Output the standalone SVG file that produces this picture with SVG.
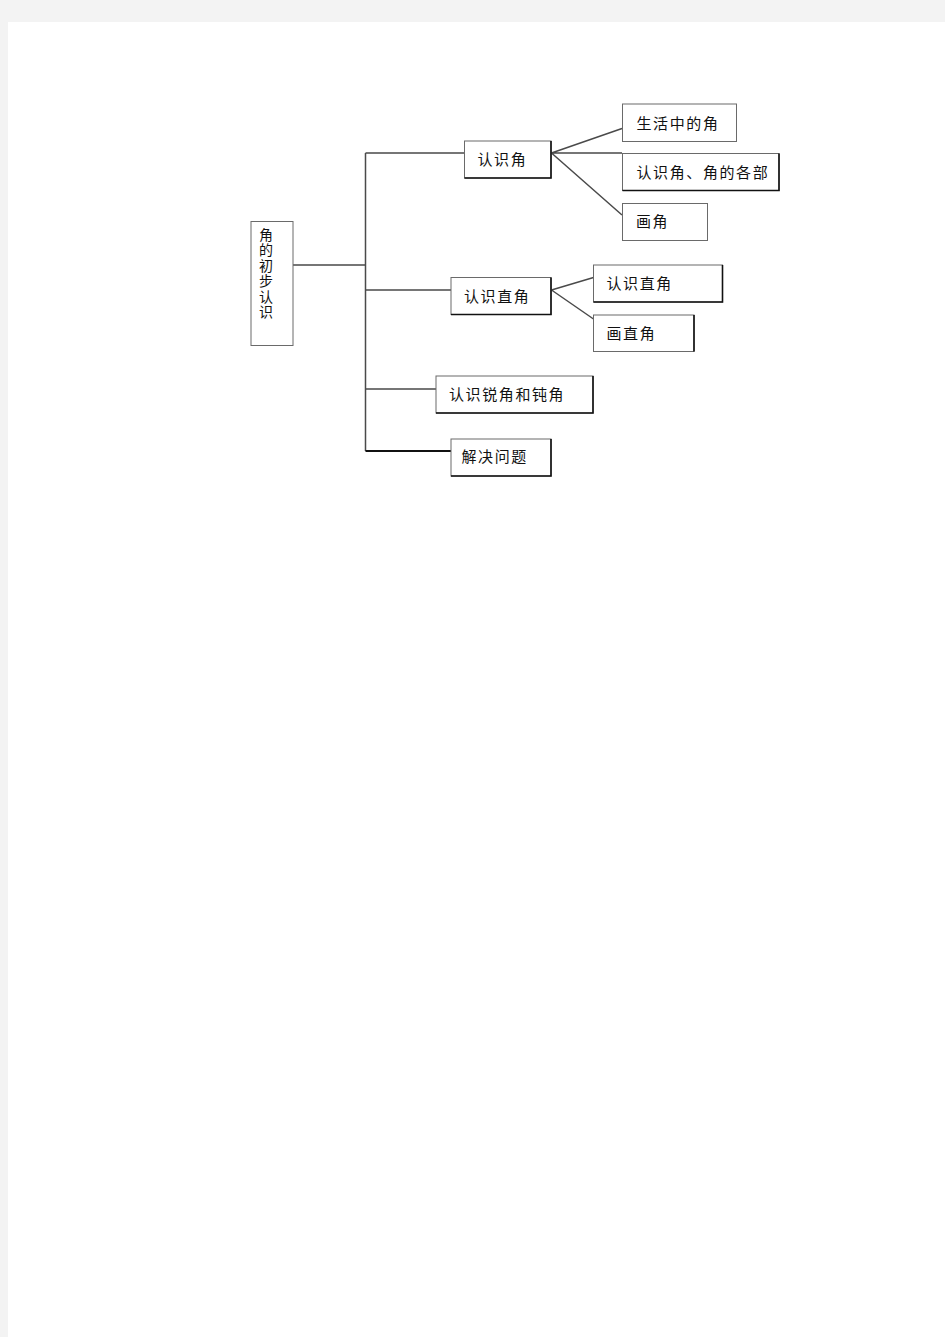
<svg xmlns="http://www.w3.org/2000/svg" width="945" height="1337" viewBox="0 0 945 1337">
<style>
.box{fill:#fff;stroke:#6a6a6a;stroke-width:1}
.sh{fill:none;stroke:#111;stroke-width:1.6}
.ln{fill:none;stroke:#4a4a4a;stroke-width:1.5}
.t{font-family:"Noto Sans CJK SC","Liberation Sans",sans-serif;font-size:15px;fill:#111;letter-spacing:1.6px;dominant-baseline:central}
.v{font-family:"Noto Sans CJK SC","Liberation Sans",sans-serif;font-size:14px;fill:#111;writing-mode:vertical-rl;letter-spacing:1.5px}
</style>
<rect x="0" y="0" width="945" height="1337" fill="#f3f3f3"/>
<rect x="8" y="22" width="937" height="1315" fill="#fff"/>
<g id="connectors">
<path class="ln" d="M293,265 H365.5 M365.5,153 V451 M365.5,153 H465 M365.5,290 H451 M365.5,389 H436"/>
<path fill="none" stroke="#111" stroke-width="1.8" d="M365.5,451 H451"/>
<path class="ln" d="M551.5,153 L622,128.5 M551.5,153 H622 M551.5,153 L622,215 M551.5,290 L593.5,277.5 M551.5,290 L593.5,319"/>
</g>
<g id="root">
<rect class="box" x="251" y="221.5" width="42" height="124"/>
<text class="v" x="266" y="227.5">角的初步认识</text>
</g>
<g id="n1">
<rect class="box" x="464.5" y="141" width="86.5" height="37"/>
<path class="sh" d="M551,141 V178 H464.5"/>
<text class="t" x="477.5" y="158.5">认识角</text>
</g>
<g id="n2">
<rect class="box" x="451" y="277.5" width="100" height="37"/>
<path class="sh" d="M551,277.5 V314.5 H451"/>
<text class="t" x="464" y="295">认识直角</text>
</g>
<g id="n3">
<rect class="box" x="436" y="376" width="157" height="37"/>
<path class="sh" d="M593,376 V413 H436"/>
<text class="t" x="449" y="393">认识锐角和钝角</text>
</g>
<g id="n4">
<rect class="box" x="451" y="439" width="100" height="37"/>
<path class="sh" d="M551,439 V476 H451"/>
<text class="t" x="461.5" y="455.5">解决问题</text>
</g>
<g id="n11">
<rect class="box" x="622.5" y="104" width="114" height="37.5"/>
<text class="t" x="636.5" y="122">生活中的角</text>
</g>
<g id="n12">
<rect class="box" x="622.5" y="153.5" width="156.5" height="37"/>
<path class="sh" d="M779,153.5 V190.5 H622.5"/>
<text class="t" x="636.5" y="171">认识角、角的各部</text>
</g>
<g id="n13">
<rect class="box" x="622.5" y="203.5" width="85" height="37"/>
<text class="t" x="636" y="220.5">画角</text>
</g>
<g id="n21">
<rect class="box" x="593.5" y="265" width="129" height="37"/>
<path class="sh" d="M722.5,265 V302 H593.5"/>
<text class="t" x="606.5" y="282.5">认识直角</text>
</g>
<g id="n22">
<rect class="box" x="593.5" y="315" width="100.5" height="36.5"/>
<path class="sh" d="M694,315 V351.5"/>
<text class="t" x="606.5" y="332.5">画直角</text>
</g>
</svg>
